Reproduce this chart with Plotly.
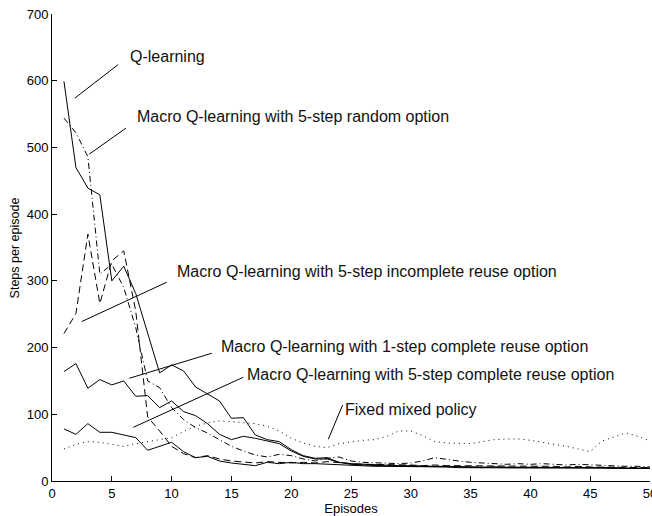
import plotly.graph_objects as go

episodes = list(range(1, 51))

q_learning = [599, 470, 439, 429, 300, 322, 281, 222, 162, 174, 165, 141, 131, 120, 94, 95, 69, 62, 59, 47,
              38, 34, 35, 28, 26, 25, 24, 24, 23, 23, 22, 22, 22, 21, 21, 21, 21, 21, 20, 20,
              20, 20, 20, 20, 20, 20, 20, 19, 19, 19]
macro_random = [544, 522, 486, 310, 325, 290, 230, 150, 140, 110, 92, 80, 72, 62, 52, 45, 39, 36, 40, 38,
                33, 30, 34, 36, 30, 28, 27, 26, 26, 27, 30, 35, 32, 30, 28, 27, 26, 25, 26, 25,
                26, 25, 24, 25, 24, 23, 23, 22, 22, 21]
macro_incomplete = [221, 251, 370, 266, 330, 345, 255, 96, 75, 52, 41, 35, 38, 33, 30, 28, 27, 29, 28, 27,
                    28, 27, 29, 27, 26, 25, 25, 24, 24, 24, 23, 24, 23, 23, 22, 22, 22, 22, 22, 22,
                    23, 22, 21, 22, 21, 21, 21, 21, 20, 20]
macro_1step = [164, 176, 139, 152, 144, 150, 127, 128, 110, 120, 104, 98, 86, 70, 62, 67, 64, 60, 56, 45,
               37, 33, 33, 28, 25, 24, 23, 23, 22, 22, 22, 21, 21, 21, 21, 20, 21, 20, 20, 20,
               21, 20, 20, 20, 20, 20, 19, 19, 19, 19]
macro_5step = [78, 70, 86, 73, 73, 69, 65, 46, 52, 58, 44, 35, 37, 30, 27, 25, 23, 28, 26, 28,
               26, 26, 25, 24, 23, 23, 22, 22, 22, 21, 21, 21, 21, 20, 20, 20, 20, 20, 20, 20,
               20, 19, 19, 19, 19, 19, 19, 19, 19, 19]
fixed_mixed = [48, 55, 59, 58, 55, 52, 56, 59, 61, 65, 74, 82, 87, 90, 89, 88, 86, 82, 75, 64,
               57, 52, 50, 56, 59, 61, 62, 67, 75, 75, 68, 59, 57, 56, 56, 59, 62, 63, 63, 61,
               58, 56, 52, 48, 44, 60, 66, 72, 67, 60]

x_ticks = list(range(0, 51, 5))
y_ticks = list(range(0, 701, 100))

FONT = "Liberation Sans, Arial, Helvetica, sans-serif"

series = [
    (q_learning, "solid"),
    (macro_random, "6px,3px,1px,3px"),
    (macro_incomplete, "7px,4px"),
    (macro_1step, "solid"),
    (macro_5step, "solid"),
    (fixed_mixed, "1px,4px"),
]

fig = go.Figure()
for vals, dash in series:
    fig.add_trace(go.Scatter(x=episodes, y=vals, mode="lines",
                             line=dict(color="black", width=1, dash=dash),
                             showlegend=False, hoverinfo="skip"))

# labels: (text, leader start (ep, val), leader end (ep, val), text anchor (ep, val))
labels = [
    ("Q-learning", (1.92, 574), (5.52, 624), (6.36, 636)),
    ("Macro Q-learning with 5-step random option", (3.12, 490), (6.19, 529), (6.95, 546)),
    ("Macro Q-learning with 5-step incomplete reuse option", (2.49, 239), (9.6, 298), (10.29, 314)),
    ("Macro Q-learning with 1-step complete reuse option", (6.47, 154), (13.36, 191.5), (13.97, 202)),
    ("Macro Q-learning with 5-step complete reuse option", (6.8, 80.5), (16.0, 155.5), (16.1, 160)),
    ("Fixed mixed policy", (23.1, 62.5), (24.3, 114), (24.3, 107.5)),
]
for text, p0, p1, pt in labels:
    fig.add_shape(type="line", xref="x", yref="y", x0=p0[0], y0=p0[1], x1=p1[0], y1=p1[1],
                  line=dict(color="black", width=1))
    fig.add_annotation(x=pt[0], y=pt[1], xref="x", yref="y", text=text, showarrow=False,
                       xanchor="left", yanchor="middle",
                       font=dict(family=FONT, size=16, color="#111111"))

fig.add_annotation(x=-0.062, y=0.5, xref="paper", yref="paper", text="Steps per episode",
                   textangle=-90, showarrow=False, xanchor="center", yanchor="middle",
                   font=dict(family=FONT, size=12.5, color="black"))

fig.update_layout(
    width=652, height=516,
    margin=dict(l=52, r=2, t=14, b=35, autoexpand=False),
    paper_bgcolor="white", plot_bgcolor="white",
    font=dict(family=FONT, size=13, color="black"),
    xaxis=dict(range=[0, 50], tickvals=x_ticks, ticks="inside", ticklen=5, tickcolor="black",
               showline=True, linecolor="black", linewidth=1, showgrid=False, zeroline=False,
               ticklabeloverflow="allow", automargin=False,
               title=dict(text="Episodes", font=dict(size=13), standoff=2),
               tickfont=dict(size=13)),
    yaxis=dict(range=[0, 700], tickvals=y_ticks, ticks="inside", ticklen=5, tickcolor="black",
               showline=True, linecolor="black", linewidth=1, showgrid=False, zeroline=False,
               automargin=False, tickfont=dict(size=13)),
)

fig.write_html("out.html")
